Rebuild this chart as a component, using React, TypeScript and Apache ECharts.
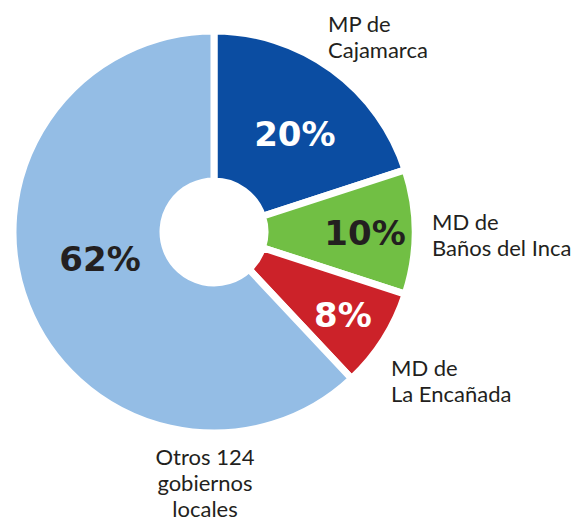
import React, { useEffect, useRef } from "react";
import * as echarts from "echarts";

const categories = [
  "MP de\nCajamarca",
  "MD de\nBaños del Inca",
  "MD de\nLa Encañada",
  "Otros 124\ngobiernos\nlocales",
];
const shares = [20, 10, 8, 62];
const sliceColors = ["#0b4da2", "#71bf44", "#cc2229", "#94bde5"];
const pctColors = ["#ffffff", "#231f20", "#ffffff", "#231f20"];

// label styling (offsets from the default inside position)
const pctOffsets = [
  [5, 6],
  [22, 1],
  [20, 14],
  [6, -20],
];
const nameLayout = [
  { x: 328, y: 36, align: "left" },
  { x: 432, y: 234, align: "left" },
  { x: 391, y: 380, align: "left" },
  { x: 205, y: 482, align: "center" },
];

export default function App() {
  const ref = useRef<HTMLDivElement>(null);
  useEffect(() => {
    if (!ref.current) return;
    const chart = echarts.init(ref.current, null, { renderer: "svg" });
    const center = [214, 232];
    const radius = [51, 201];
    chart.setOption({
      animation: false,
      backgroundColor: "#ffffff",
      series: [
        {
          type: "pie",
          center,
          radius,
          startAngle: 90,
          clockwise: true,
          avoidLabelOverlap: false,
          silent: true,
          itemStyle: { borderColor: "#ffffff", borderWidth: 7 },
          label: {
            show: true,
            position: "inside",
            formatter: "{c}%",
            fontFamily: "DejaVu Sans",
            fontWeight: "bold",
            fontSize: 34,
          },
          labelLine: { show: false },
          data: shares.map((v, i) => ({
            name: categories[i],
            value: v,
            itemStyle: { color: sliceColors[i] },
            label: { color: pctColors[i], offset: pctOffsets[i] },
          })),
        },
        {
          type: "pie",
          center,
          radius,
          startAngle: 90,
          clockwise: true,
          avoidLabelOverlap: false,
          silent: true,
          z: 1,
          itemStyle: { color: "rgba(0,0,0,0)", borderWidth: 0 },
          label: {
            show: true,
            position: "outside",
            formatter: "{b}",
            fontFamily: "Lato",
            fontSize: 22,
            lineHeight: 26,
            color: "#231f20",
          },
          labelLine: { show: false },
          labelLayout: (p: any) => ({
            x: nameLayout[p.dataIndex].x,
            y: nameLayout[p.dataIndex].y,
            align: nameLayout[p.dataIndex].align,
            verticalAlign: "middle",
          }),
          data: shares.map((v, i) => ({ name: categories[i], value: v })),
        },
      ],
    });
    return () => chart.dispose();
  }, []);
  return (
    <div
      ref={ref}
      style={{ position: "fixed", left: 0, top: 0, width: 582, height: 521 }}
    />
  );
}
